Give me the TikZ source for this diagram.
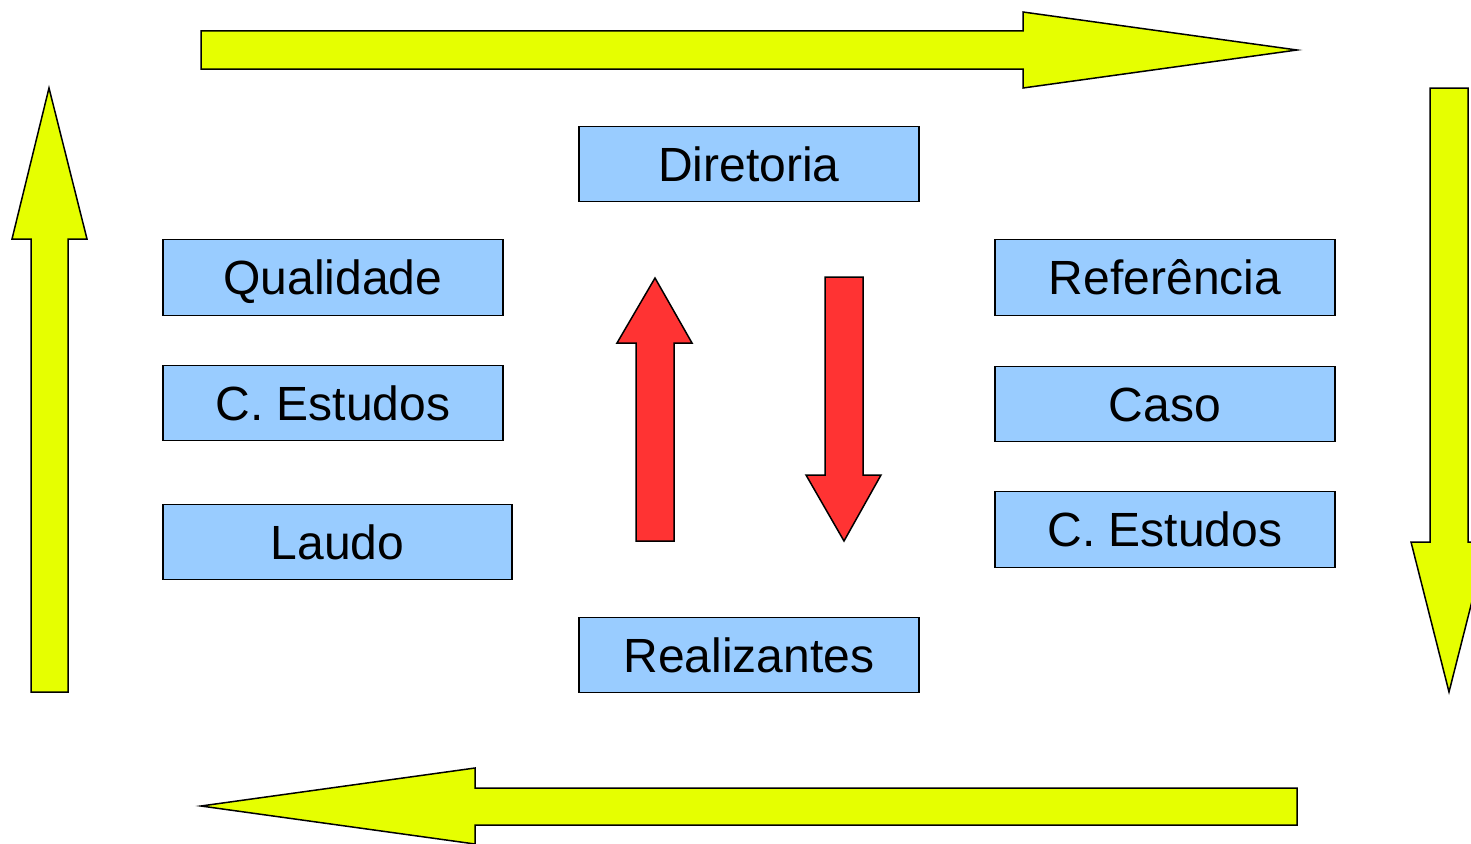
\documentclass[tikz,border=0pt]{standalone}
\usepackage{fontspec}
\setmainfont{Liberation Sans}
\definecolor{boxblue}{HTML}{99CCFF}
\definecolor{arryellow}{HTML}{E6FF00}
\definecolor{arrred}{HTML}{FF3333}
\begin{document}
\begin{tikzpicture}[x=1pt,y=-1pt,
  box/.style={draw=black,line width=1.3pt,fill=boxblue,inner sep=0pt,
    text height=34pt,text depth=0pt,
    font=\fontsize{48}{50}\selectfont},
  bigarrow/.style={draw=black,line width=1.5pt,fill=arryellow,line join=miter},
  redarrow/.style={draw=black,line width=1.5pt,fill=arrred,line join=miter}]
\useasboundingbox (0,0) rectangle (1471,843);
\clip (0,0) rectangle (1471,843);
% yellow arrows
\draw[bigarrow] (201,31) -- (1023,31) -- (1023,12) -- (1297,50) -- (1023,88) -- (1023,69) -- (201,69) -- cycle;
\draw[bigarrow] (1430,88) -- (1468,88) -- (1468,542) -- (1487,542) -- (1449,692) -- (1411,542) -- (1430,542) -- cycle;
\draw[bigarrow] (1297,788) -- (1297,825) -- (475,825) -- (475,844) -- (201,806) -- (475,768) -- (475,788) -- cycle;
\draw[bigarrow] (31,692) -- (31,239) -- (12,239) -- (49,88) -- (87,239) -- (68,239) -- (68,692) -- cycle;
% red arrows
\draw[redarrow] (636,541) -- (636,343) -- (617,343) -- (655,278) -- (692,343) -- (674,343) -- (674,541) -- cycle;
\draw[redarrow] (825,277) -- (863,277) -- (863,475) -- (881,475) -- (844,541) -- (806,475) -- (825,475) -- cycle;
% boxes
\node[box,minimum width=340pt,minimum height=75pt] (dir) at (749,164) {Diretoria};
\node[box,minimum width=340pt,minimum height=76pt] (qual) at (333,277.5) {Qualidade};
\node[box,minimum width=340pt,minimum height=75pt] (cest1) at (333,403) {C. Estudos};
\node[box,minimum width=349pt,minimum height=75pt] (laudo) at (337.5,542) {Laudo};
\node[box,minimum width=340pt,minimum height=76pt] (ref) at (1165,277.5) {Referência};
\node[box,minimum width=340pt,minimum height=75pt] (caso) at (1165,404) {Caso};
\node[box,minimum width=340pt,minimum height=76pt] (cest2) at (1165,529.5) {C. Estudos};
\node[box,minimum width=340pt,minimum height=75pt] (real) at (749,655) {Realizantes};
\end{tikzpicture}
\end{document}
